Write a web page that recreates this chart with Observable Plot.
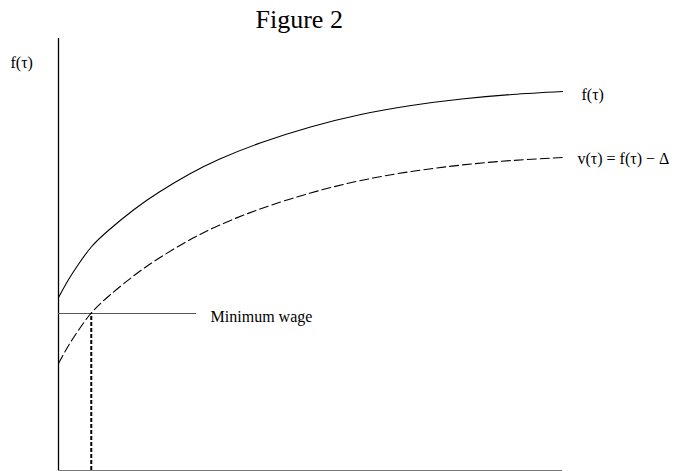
<!DOCTYPE html>
<html><head><meta charset="utf-8">
<script src="https://cdn.jsdelivr.net/npm/d3@7"></script>
<script src="https://cdn.jsdelivr.net/npm/@observablehq/plot@0.6"></script>
<style>body{margin:0;background:#fff} svg{display:block}</style>
</head><body><div id="chart"></div>
<script>
// tenure (arbitrary units along the horizontal axis)
const tau = [0, 0.2, 0.4, 0.65, 1, 1.5, 2, 2.6, 3.2, 4, 5, 6, 7, 8, 9, 10];
// productivity f(tau) (arbitrary units)
const fValues = [173, 191, 206.5, 223.5, 240.5, 261, 278.5, 296.5, 311.5, 327.5, 343.5, 356, 365, 371.5, 376, 379];
// v(tau) = f(tau) - Delta
const vValues = [107, 125, 140.5, 157.5, 174.5, 195, 212.5, 230.5, 245.5, 261.5, 277.5, 290, 299, 305.5, 310, 313];
const minWage = 157;
const minWageEnd = 2.74;
const tauStar = 0.65;
const labels = {title: "Figure 2", yLabel: "f(τ)", f: "f(τ)", v: "v(τ) = f(τ) − Δ", mw: "Minimum wage"};

const fData = tau.map((t, i) => ({tau: t, value: fValues[i]}));
const vData = tau.map((t, i) => ({tau: t, value: vValues[i]}));
const font = "'Liberation Serif', 'Times New Roman', serif";

const chart = Plot.plot({
  width: 695, height: 471,
  marginLeft: 58, marginRight: 133, marginTop: 38, marginBottom: 1,
  x: {domain: [0, 10], axis: null},
  y: {domain: [0, 432], axis: null},
  style: {fontFamily: font, background: "#fff", color: "#000", overflow: "visible"},
  marks: [
    Plot.ruleY([0], {x1: 0, x2: 10, stroke: "#777", strokeWidth: 1.2}),
    Plot.ruleX([0], {y1: 0, y2: 432, stroke: "#000", strokeWidth: 1.3}),
    Plot.ruleY([minWage], {x1: 0, x2: minWageEnd, stroke: "#555", strokeWidth: 1.2}),
    Plot.ruleX([tauStar], {y1: 0, y2: minWage, stroke: "#000", strokeWidth: 2, strokeDasharray: "4,2"}),
    Plot.line(fData, {x: "tau", y: "value", curve: "natural", stroke: "#000", strokeWidth: 1.1}),
    Plot.line(vData, {x: "tau", y: "value", curve: "natural", stroke: "#000", strokeWidth: 1.1, strokeDasharray: "9,4"}),
    Plot.text([labels.f], {x: () => tau[tau.length - 1], y: () => fValues[fValues.length - 1], text: d => d, dx: 19, dy: 3, textAnchor: "start", lineAnchor: "middle", fontSize: 16, fill: "#000"}),
    Plot.text([labels.v], {x: () => tau[tau.length - 1], y: () => vValues[vValues.length - 1], text: d => d, dx: 15, dy: 1, textAnchor: "start", lineAnchor: "middle", fontSize: 16, fill: "#000"}),
    Plot.text([labels.mw], {x: () => minWageEnd, y: () => minWage, text: d => d, dx: 14, dy: 3, textAnchor: "start", lineAnchor: "middle", fontSize: 16, fill: "#000"}),
    Plot.text([labels.yLabel], {frameAnchor: "top-left", text: d => d, dx: -48, dy: 24, textAnchor: "start", lineAnchor: "middle", fontSize: 16, fill: "#000"}),
    Plot.text([labels.title], {frameAnchor: "top-left", text: d => d, dx: 197, dy: -19, textAnchor: "start", lineAnchor: "middle", fontSize: 26, fill: "#000"})
  ]
});
document.getElementById("chart").appendChild(chart);
</script>
</body></html>
